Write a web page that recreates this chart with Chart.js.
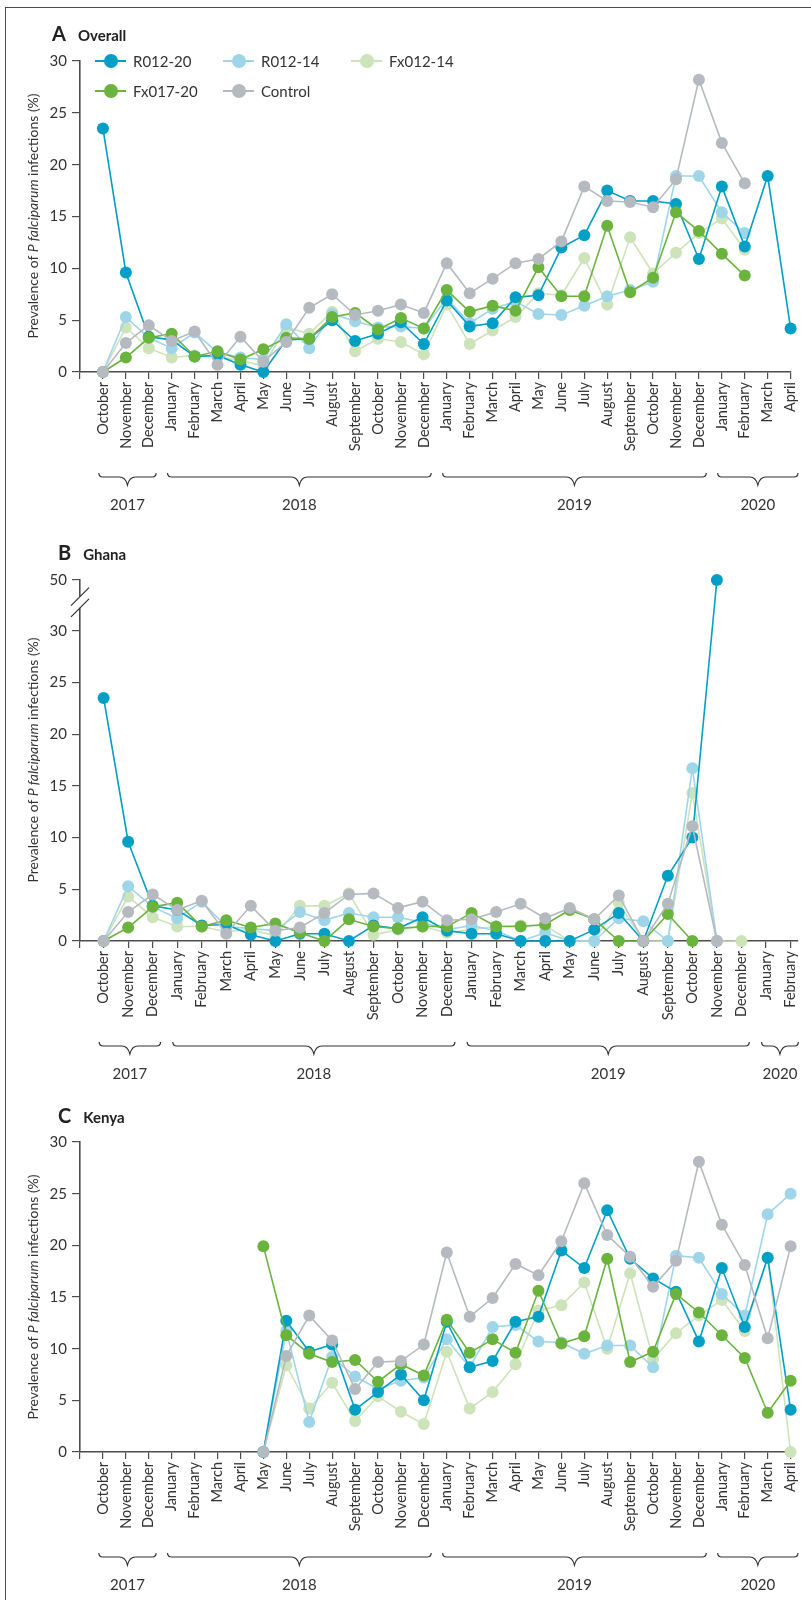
<!DOCTYPE html>
<html>
<head>
<meta charset="utf-8">
<script src="https://cdn.jsdelivr.net/npm/chart.js@4.4.1/dist/chart.umd.min.js"></script>
<style>
  body { margin: 0; background: #fff; font-family: Lato, "Open Sans", sans-serif; color: #333; }
  #page { position: relative; width: 811px; height: 1600px; overflow: hidden; }
  .frame { position: absolute; left: 5px; top: 7px; right: -5px; bottom: -5px;
           border-left: 1px solid #a3223f; border-top: 1px solid #a3223f; }
  .panel { position: absolute; left: 0; }
  .title { position: absolute; display: flex; align-items: baseline; line-height: 24px; color: #222; white-space: nowrap; }
  .title .letter { font-size: 20px; font-weight: 700; }
  .title .name { font-size: 15px; font-weight: 700; margin-left: 12px; }
  .ylab { position: absolute; left: 32px; white-space: nowrap; font-size: 14px; color: #333;
          transform: translate(-50%, -50%) rotate(-90deg); }
  .lg { position: absolute; display: flex; align-items: center; transform: translateY(-50%);
        font-size: 15px; color: #333; white-space: nowrap; }
  .lg .key { position: relative; width: 31px; height: 14px; margin-right: 7px; }
  .lg .ln { position: absolute; left: 0; right: 0; top: 6.2px; height: 1.6px; }
  .lg .dot { position: absolute; left: 8.5px; top: 0; width: 14px; height: 14px; border-radius: 50%; }
</style>
</head>
<body>
<div id="page">
  <div class="frame"></div>
  <div class="panel" style="top:0px"><canvas id="chartA" width="811" height="530"></canvas></div>
  <div class="panel" style="top:530px"><canvas id="chartB" width="811" height="570"></canvas></div>
  <div class="panel" style="top:1100px"><canvas id="chartC" width="811" height="500"></canvas></div>

  <div class="title" style="left:52px;top:21px"><span class="letter">A</span><span class="name">Overall</span></div>
  <div class="title" style="left:58px;top:540px"><span class="letter">B</span><span class="name">Ghana</span></div>
  <div class="title" style="left:58px;top:1103px"><span class="letter">C</span><span class="name">Kenya</span></div>

  <div class="ylab" style="top:216px">Prevalence of <i>P falciparum</i> infections (%)</div>
  <div class="ylab" style="top:760px">Prevalence of <i>P falciparum</i> infections (%)</div>
  <div class="ylab" style="top:1297px">Prevalence of <i>P falciparum</i> infections (%)</div>

  <div id="legend"></div>
</div>

<script>
// months shown on the x axes (October 2017 - April 2020)
const monthsOverall = [
  "October", "November", "December",
  "January", "February", "March", "April", "May", "June", "July", "August", "September", "October", "November", "December",
  "January", "February", "March", "April", "May", "June", "July", "August", "September", "October", "November", "December",
  "January", "February", "March", "April"
];
// Ghana stops at February 2020
const monthsGhana = monthsOverall.slice(0, 29);
const years = ["2017", "2018", "2019", "2020"];

const seriesNames = ["R012-20", "R012-14", "Fx012-14", "Fx017-20", "Control"];
const seriesColors = ["#00a0c6", "#9fd5e9", "#cde3ba", "#6ab43e", "#b5bac1"];
const drawOrder = [2, 3, 4, 1, 0];

// A - Overall (%)
const overallR01220 = [23.5, 9.6, 3.4, 3.1, 1.5, 1.6, 0.7, 0, 3.1, 3.2, 5.0, 3.0, 3.7, 4.8, 2.7, 6.9, 4.4, 4.7, 7.2, 7.4, 12.0, 13.2, 17.5, 16.5, 16.5, 16.2, 10.9, 17.9, 12.1, 18.9, 4.2];
const overallR01214 = [0, 5.3, 3.3, 2.3, 3.8, 1.9, 1.4, 1.2, 4.6, 2.3, 5.6, 4.9, 4.3, 4.4, 4.2, 7.1, 4.7, 6.1, 6.8, 5.6, 5.5, 6.4, 7.3, 7.9, 8.7, 18.9, 18.9, 15.4, 13.4, null, null];
const overallFx01214 = [0, 4.3, 2.3, 1.4, 1.6, 1.5, 1.1, 0.6, 4.3, 3.7, 5.8, 2.0, 3.2, 2.9, 1.7, 6.5, 2.7, 4.0, 5.3, 7.6, 7.4, 11.0, 6.5, 13.0, 9.5, 11.5, 13.4, 14.8, 11.8, null, null];
const overallFx01720 = [0, 1.4, 3.3, 3.7, 1.5, 2.0, 1.2, 2.2, 3.3, 3.2, 5.3, 5.7, 4.1, 5.2, 4.2, 7.9, 5.8, 6.4, 5.9, 10.1, 7.3, 7.3, 14.1, 7.7, 9.1, 15.4, 13.6, 11.4, 9.3, null, null];
const overallControl = [0, 2.8, 4.5, 3.0, 3.9, 0.7, 3.4, 1.0, 2.9, 6.2, 7.5, 5.5, 5.9, 6.5, 5.7, 10.5, 7.6, 9.0, 10.5, 10.9, 12.6, 17.9, 16.5, 16.4, 15.9, 18.6, 28.2, 22.1, 18.2, null, null];

// B - Ghana (%)
const ghanaR01220 = [23.5, 9.6, 3.4, 3.0, 1.5, 1.6, 0.6, 0, 0.7, 0.7, 0, 1.5, 1.2, 2.3, 1.0, 0.7, 0.7, 0, 0, 0, 1.1, 2.7, 0, 6.3, 10.0, 50, null, null, null];
const ghanaR01214 = [0, 5.3, 3.3, 2.2, 3.8, 1.4, 1.2, 1.0, 2.8, 2.0, 2.7, 2.3, 2.3, 1.8, 1.1, 1.5, 1.0, 0, 0.8, 0, 0, 2.2, 1.9, 0, 16.7, 0, null, null, null];
const ghanaFx01214 = [0, 4.3, 2.3, 1.4, 1.4, 0.9, 1.1, 0.5, 3.4, 3.4, 4.6, 0.6, 1.1, 1.4, 0.8, 1.1, 1.4, 1.5, 1.5, 0, 0, 3.7, 0, 0, 14.3, 0, 0, null, null];
const ghanaFx01720 = [0, 1.3, 3.3, 3.7, 1.4, 2.0, 1.3, 1.7, 0.8, 0, 2.1, 1.4, 1.2, 1.4, 1.4, 2.7, 1.4, 1.4, 1.6, 3.0, 2.1, 0, 0, 2.6, 0, null, null, null, null];
const ghanaControl = [0, 2.8, 4.5, 3.0, 3.9, 0.7, 3.4, 1.0, 1.3, 2.7, 4.5, 4.6, 3.2, 3.8, 2.0, 2.1, 2.8, 3.6, 2.2, 3.2, 2.1, 4.4, 0, 3.6, 11.1, 0, null, null, null];

// C - Kenya (%), no data before May 2018
const kenyaR01220 = [null, null, null, null, null, null, null, 0, 12.7, 9.7, 10.4, 4.1, 5.8, 7.5, 5.0, 12.6, 8.2, 8.8, 12.6, 13.1, 19.5, 17.8, 23.4, 18.7, 16.8, 15.5, 10.7, 17.8, 12.1, 18.8, 4.1];
const kenyaR01214 = [null, null, null, null, null, null, null, 0, 11.7, 2.9, 9.2, 7.3, 6.1, 6.9, 7.2, 10.9, 8.2, 12.1, 12.3, 10.7, 10.6, 9.5, 10.3, 10.3, 8.2, 19.0, 18.8, 15.3, 13.2, 23.0, 25.0];
const kenyaFx01214 = [null, null, null, null, null, null, null, 0, 8.4, 4.2, 6.7, 3.0, 5.4, 3.9, 2.7, 9.7, 4.2, 5.8, 8.5, 13.7, 14.2, 16.4, 10.0, 17.3, 9.0, 11.5, 13.2, 14.7, 11.7, 18.8, 0];
const kenyaFx01720 = [null, null, null, null, null, null, null, 19.9, 11.3, 9.5, 8.7, 8.9, 6.8, 8.5, 7.4, 12.8, 9.6, 10.9, 9.6, 15.6, 10.5, 11.2, 18.7, 8.7, 9.7, 15.3, 13.5, 11.3, 9.1, 3.8, 6.9];
const kenyaControl = [null, null, null, null, null, null, null, 0, 9.3, 13.2, 10.8, 6.1, 8.7, 8.8, 10.4, 19.3, 13.1, 14.9, 18.2, 17.1, 20.4, 26.0, 21.0, 18.9, 16.0, 18.5, 28.1, 22.0, 18.1, 11.0, 19.9];

Chart.defaults.font.family = "Lato, 'Open Sans', sans-serif";
Chart.defaults.color = "#333";

const axisColor = "#4d4d4d";

// ghana axis is broken between 30 and 50
function breakY(v) {
  return v <= 30 ? v : 30 + (v - 30) * 0.245;
}

function buildDatasets(values, mapY) {
  return seriesNames.map((name, s) => ({
    label: name,
    data: values[s].map((v, i) => ({ x: i, y: v === null ? null : mapY(v) })),
    borderColor: seriesColors[s],
    backgroundColor: seriesColors[s],
    pointBackgroundColor: seriesColors[s],
    borderWidth: 1.6,
    pointRadius: 6,
    pointHoverRadius: 6,
    pointBorderWidth: 0,
    tension: 0,
    spanGaps: false,
    clip: false,
    order: drawOrder[s],
  }));
}

// curly braces + year under the month labels
function makeBraces(months) {
  return {
    id: "yearBraces",
    afterDraw(chart) {
      const x = chart.scales.x;
      const base = chart.chartArea.bottom;
      const ctx = chart.ctx;
      const groups = [];
      months.forEach((m, i) => {
        if (i === 0 || m === "January") groups.push({ from: i, to: i });
        else groups[groups.length - 1].to = i;
      });
      ctx.save();
      ctx.strokeStyle = "#333";
      ctx.lineWidth = 1.2;
      ctx.fillStyle = "#333";
      ctx.font = "15px Lato";
      ctx.textAlign = "center";
      ctx.textBaseline = "middle";
      groups.forEach((g, k) => {
        const x1 = x.getPixelForValue(g.from - 0.18);
        const x2 = x.getPixelForValue(g.to + 0.32);
        const mid = (x1 + x2) / 2;
        const top = base + 101;
        const hy = top + 4;
        ctx.beginPath();
        ctx.moveTo(x1, top);
        ctx.quadraticCurveTo(x1, hy, x1 + 4, hy);
        ctx.lineTo(mid - 8, hy);
        ctx.quadraticCurveTo(mid - 2, hy, mid, top + 12);
        ctx.quadraticCurveTo(mid + 2, hy, mid + 8, hy);
        ctx.lineTo(x2 - 4, hy);
        ctx.quadraticCurveTo(x2, hy, x2, top);
        ctx.stroke();
        ctx.fillText(years[k], mid, base + 133);
      });
      ctx.restore();
    },
  };
}

const axisBreak = {
  id: "axisBreak",
  afterDraw(chart) {
    const y = chart.scales.y;
    const ctx = chart.ctx;
    const x0 = chart.chartArea.left;
    const yHi = y.getPixelForValue(33.3);
    const yLo = y.getPixelForValue(32.2);
    ctx.save();
    ctx.fillStyle = "#fff";
    ctx.fillRect(x0 - 2, yHi, 4, yLo - yHi);
    ctx.strokeStyle = "#333";
    ctx.lineWidth = 1.2;
    [yHi, yLo].forEach((yc) => {
      ctx.beginPath();
      ctx.moveTo(x0 - 9, yc + 9);
      ctx.lineTo(x0 + 9, yc - 9);
      ctx.stroke();
    });
    ctx.restore();
  },
};

function makeChart(id, months, values, opt) {
  const mapY = opt.mapY || ((v) => v);
  const ctx = document.getElementById(id).getContext("2d");
  return new Chart(ctx, {
    type: "line",
    data: { datasets: buildDatasets(values, mapY) },
    options: {
      responsive: false,
      animation: false,
      events: [],
      layout: { padding: opt.padding },
      plugins: { legend: { display: false }, tooltip: { enabled: false } },
      scales: {
        x: {
          type: "linear",
          min: opt.xMin,
          max: opt.xMax,
          afterBuildTicks: (scale) => {
            scale.ticks = [{ value: scale.min }].concat(months.map((m, i) => ({ value: i })));
          },
          afterFit: (scale) => {
            scale.height = 90;
          },
          ticks: {
            autoSkip: false,
            minRotation: 90,
            maxRotation: 90,
            padding: 3,
            font: { size: 14.5 },
            color: "#333",
            callback: (v) => months[v] ?? "",
          },
          grid: { drawOnChartArea: false, drawTicks: true, tickLength: 7, color: axisColor, lineWidth: 1.2 },
          border: { display: true, color: axisColor, width: 1.6 },
        },
        y: {
          min: 0,
          max: opt.yMax,
          afterBuildTicks: (scale) => {
            scale.ticks = opt.yTicks.map((v) => ({ value: mapY(v) }));
          },
          afterFit: (scale) => {
            scale.width = 80;
          },
          ticks: {
            padding: 5,
            font: { size: 15 },
            color: "#333",
            callback: (v) => (v > 30 ? "50" : v),
          },
          grid: { drawOnChartArea: false, drawTicks: true, tickLength: 8, color: axisColor, lineWidth: 1.2 },
          border: { display: true, color: axisColor, width: 1.6 },
        },
      },
    },
    plugins: [makeBraces(months)].concat(opt.plugins || []),
  });
}

makeChart("chartA", monthsOverall,
  [overallR01220, overallR01214, overallFx01214, overallFx01720, overallControl],
  { xMin: -1, xMax: 30, yMax: 30, yTicks: [0, 5, 10, 15, 20, 25, 30],
    padding: { top: 61, bottom: 68, left: 0, right: 14 } });

makeChart("chartB", monthsGhana,
  [ghanaR01220, ghanaR01214, ghanaFx01214, ghanaFx01720, ghanaControl],
  { xMin: -0.963, xMax: 28.3, yMax: breakY(50), yTicks: [0, 5, 10, 15, 20, 25, 30, 50], mapY: breakY,
    padding: { top: 50, bottom: 69, left: 0, right: 11 }, plugins: [axisBreak] });

makeChart("chartC", monthsOverall,
  [kenyaR01220, kenyaR01214, kenyaFx01214, kenyaFx01720, kenyaControl],
  { xMin: -1, xMax: 30, yMax: 30, yTicks: [0, 5, 10, 15, 20, 25, 30],
    padding: { top: 42, bottom: 58, left: 0, right: 14 } });

// legend for panel A, three columns by two rows
const legendCols = [95, 223, 351];
const legendRows = [61, 91];
const legend = document.getElementById("legend");
seriesNames.forEach((name, k) => {
  const item = document.createElement("div");
  item.className = "lg";
  item.style.left = legendCols[k % 3] + "px";
  item.style.top = legendRows[Math.floor(k / 3)] + "px";
  item.innerHTML =
    `<span class="key"><span class="ln" style="background:${seriesColors[k]}"></span>` +
    `<span class="dot" style="background:${seriesColors[k]}"></span></span>` +
    `<span class="txt">${name}</span>`;
  legend.appendChild(item);
});
</script>
</body>
</html>
